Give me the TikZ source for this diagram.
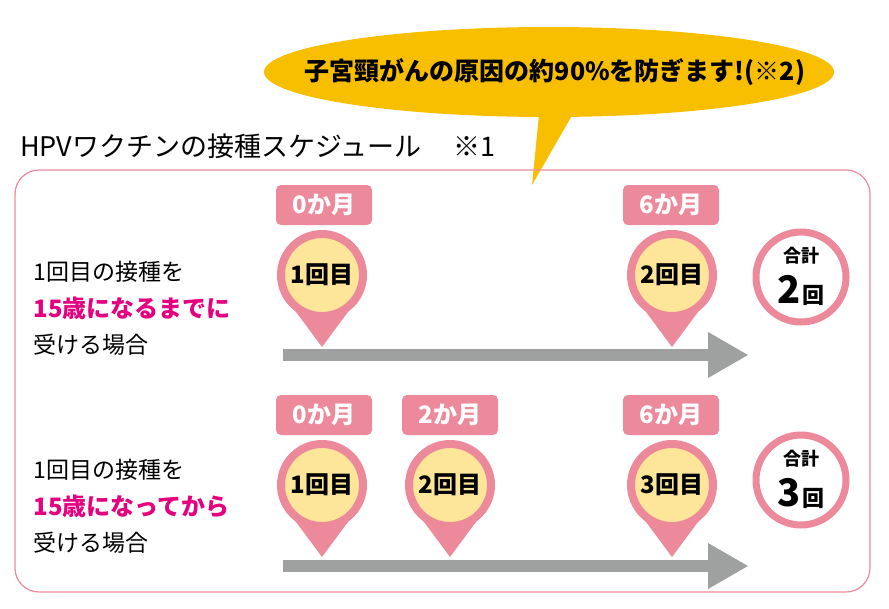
\documentclass[tikz,border=0pt]{standalone}
\usepackage{fontspec}
\setmainfont{Noto Sans CJK JP}
\usetikzlibrary{positioning, calc, shapes}
\definecolor{pinpink}{HTML}{EC8A9C}
\definecolor{pinyellow}{HTML}{FDE699}
\definecolor{arrgray}{HTML}{9FA0A0}
\definecolor{hotpink}{HTML}{E4007F}
\definecolor{bubbleyel}{HTML}{F8BE00}
\tikzset{
  month/.style={fill=pinpink,rounded corners=5pt,minimum width=96pt,minimum height=40pt,text=white,font=\fontsize{24}{24}\selectfont\bfseries,inner sep=0pt},
  dose/.style={circle,fill=pinyellow,draw=pinpink,line width=8pt,minimum size=82pt,inner sep=0pt,font=\fontsize{24}{24}\selectfont\bfseries},
  total/.style={circle,draw=pinpink,line width=7pt,fill=white,minimum size=90pt,inner sep=0pt},
  totalhead/.style={font=\fontsize{18}{18}\selectfont\bfseries,inner sep=0pt},
  totalnum/.style={font=\bfseries,inner sep=0pt},
  lefttext/.style={anchor=west,font=\fontsize{23}{23}\selectfont},
}
\newcommand{\pin}[3]{% name, x, y
  \fill[pinpink] ($(#2,#3)+(-40,18)$) -- (#2,#3+72) -- ($(#2,#3)+(40,18)$) -- cycle;
}
\begin{document}
\begin{tikzpicture}[x=1pt,y=-1pt]
\useasboundingbox (0,0) rectangle (889,608);
% bubble
\fill[bubbleyel] (532,185) -- (540,105) -- (578,105) -- cycle;
\fill[bubbleyel] (549,72) ellipse (285 and 45);
\node[font=\fontsize{25}{25}\selectfont\bfseries,inner sep=0pt] (bubble) at (555,72) {子宮頸がんの原因の約90\%を防ぎます!(※2)};
% title
\node[anchor=west,font=\fontsize{27}{27}\selectfont,inner sep=0pt] (title) at (20,146) {HPVワクチンの接種スケジュール\hspace{1.2em}※1};
\draw[pinpink,line width=1.2pt,rounded corners=24pt] (15,170) rectangle (870,592);
% row 1
\node[lefttext] (l1a) at (30,272) {1回目の接種を};
\node[lefttext,text=hotpink,font=\fontsize{24}{24}\selectfont\bfseries] (l1b) at (30,308) {15歳になるまでに};
\node[lefttext] (l1c) at (30,345) {受ける場合};
\fill[arrgray] (283,349) rectangle (710,361);
\fill[arrgray] (708,332) -- (748,355) -- (708,378) -- cycle;
\pin{p11}{322}{275}
\pin{p12}{672}{275}
\node[month] (m11) at (324,205) {0か月};
\node[month] (m12) at (671,205) {6か月};
\node[dose] (d11) at (322,275) {1回目};
\node[dose] (d12) at (672,275) {2回目};
\node[total] (t1) at (801,277) {};
\node[totalhead] (t1h) at (801,256) {合計};
\node[totalnum] (t1n) at (801,290) {{\fontsize{38}{38}\selectfont 2}\,{\fontsize{22}{22}\selectfont 回}};
% row 2
\node[lefttext] (l2a) at (30,470) {1回目の接種を};
\node[lefttext,text=hotpink,font=\fontsize{24}{24}\selectfont\bfseries] (l2b) at (30,506) {15歳になってから};
\node[lefttext] (l2c) at (30,543) {受ける場合};
\fill[arrgray] (283,560) rectangle (710,572);
\fill[arrgray] (708,543) -- (748,566) -- (708,589) -- cycle;
\pin{p21}{322}{485}
\pin{p22}{450}{485}
\pin{p23}{672}{485}
\node[month] (m21) at (324,415) {0か月};
\node[month] (m22) at (450,415) {2か月};
\node[month] (m23) at (671,415) {6か月};
\node[dose] (d21) at (322,485) {1回目};
\node[dose] (d22) at (450,485) {2回目};
\node[dose] (d23) at (672,485) {3回目};
\node[total] (t2) at (801,480) {};
\node[totalhead] (t2h) at (801,459) {合計};
\node[totalnum] (t2n) at (801,493) {{\fontsize{38}{38}\selectfont 3}\,{\fontsize{22}{22}\selectfont 回}};
\end{tikzpicture}
\end{document}
